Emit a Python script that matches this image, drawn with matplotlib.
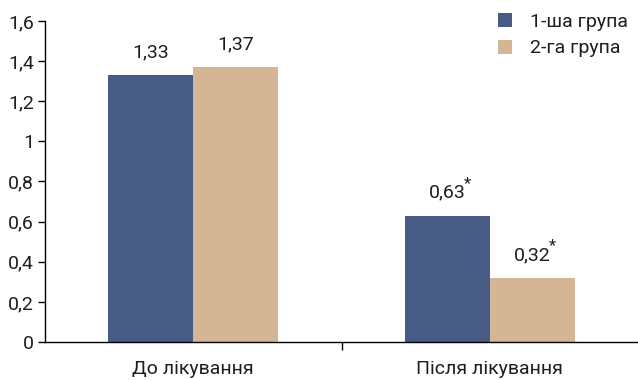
import matplotlib.pyplot as plt
import numpy as np

categories = ["До лікування", "Після лікування"]
group1 = [1.33, 0.63]
group2 = [1.37, 0.32]
labels1 = ["1,33", "0,63"]
labels2 = ["1,37", "0,32"]
star1 = [False, True]
star2 = [False, True]
series = ["1-ша група", "2-га група"]
yticks = [0, 0.2, 0.4, 0.6, 0.8, 1.0, 1.2, 1.4, 1.6]
ytick_labels = ["0", "0,2", "0,4", "0,6", "0,8", "1", "1,2", "1,4", "1,6"]

c1 = "#475b85"
c2 = "#d4b595"
txt_c = "#1e1e1e"
plt.rcParams["font.family"] = ["Roboto", "DejaVu Sans"]
fs = 14

fig = plt.figure(figsize=(6.38, 3.8), dpi=100)
ax = fig.add_axes([45 / 638, 0.1, 1 - 45 / 638, 0.845])

x = np.arange(len(categories))
w = 0.286
b1 = ax.bar(x - w / 2, group1, w, color=c1, label=series[0])
b2 = ax.bar(x + w / 2, group2, w, color=c2, label=series[1])

for bars, labs, stars in ((b1, labels1, star1), (b2, labels2, star2)):
    for r, lab, st in zip(bars, labs, stars):
        cx = r.get_x() + r.get_width() / 2
        top = r.get_height()
        t = ax.annotate(lab, (cx, top), xytext=(0, 10), textcoords="offset points",
                        ha="center", va="bottom", fontsize=fs, color=txt_c)
        if st:
            ax.annotate("*", xy=(1.0, 1.0), xycoords=t, xytext=(1.5, 0),
                        textcoords="offset points", ha="center", va="center",
                        fontsize=12, color=txt_c)

ax.set_xlim(-0.5, 1.5)
ax.set_ylim(0, 1.6)
ax.set_yticks(yticks)
ax.set_yticklabels(ytick_labels, fontsize=fs, color=txt_c)
ax.set_xticks([0.5])
ax.set_xticklabels([""])
ax.tick_params(axis="x", length=6, direction="out", width=1)
ax.tick_params(axis="y", length=5, direction="out", width=1, pad=3)
for i, c in enumerate(categories):
    ax.text(x[i], -0.09, c, ha="center", va="top", fontsize=fs,
            transform=ax.transData, color=txt_c)

for s in ("top", "right"):
    ax.spines[s].set_visible(False)
ax.spines["left"].set_linewidth(1)
ax.spines["bottom"].set_linewidth(1)

leg = ax.legend(loc="upper right", bbox_to_anchor=(1.012, 1.08), frameon=False, fontsize=fs,
                handlelength=0.75, handleheight=0.75, handletextpad=0.9, labelspacing=0.45)
for t in leg.get_texts():
    t.set_color(txt_c)

fig.savefig("out.png", dpi=100)
